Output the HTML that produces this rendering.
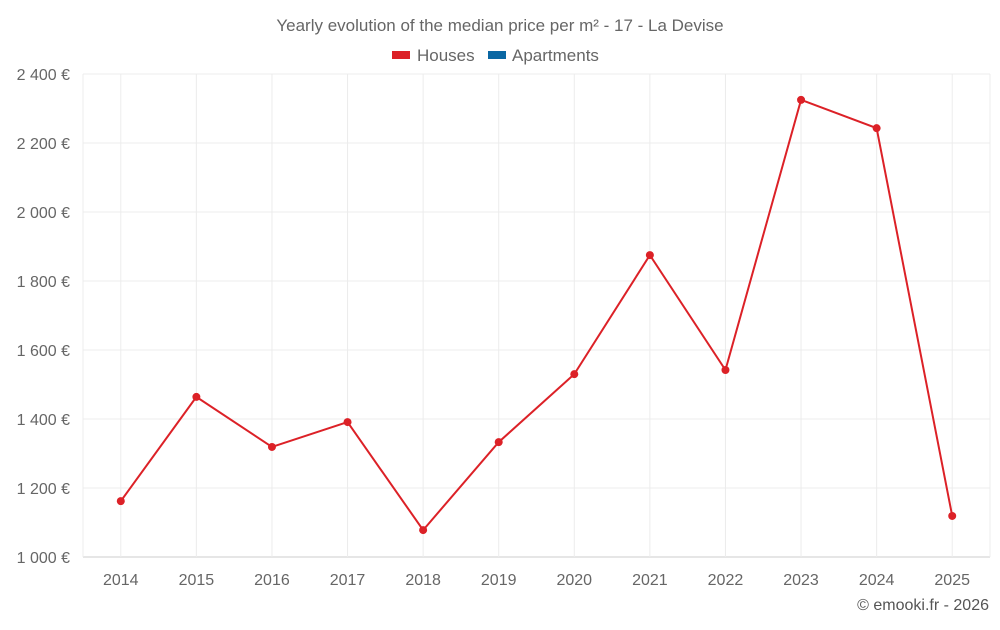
<!DOCTYPE html>
<html><head><meta charset="utf-8"><style>
body{margin:0;background:#fff;font-family:"Liberation Sans",Roboto,sans-serif;}
svg text{font-family:"Liberation Sans",sans-serif;}
</style></head><body>
<svg id="chart" width="1000" height="625" xmlns="http://www.w3.org/2000/svg">
<text x="500" y="31" text-anchor="middle" font-size="17" fill="#666">Yearly evolution of the median price per m² - 17 - La Devise</text>
<g><rect x="392" y="51" width="18" height="8" fill="#dc2127"/><text x="417" y="61" font-size="17" fill="#666">Houses</text></g>
<g><rect x="488" y="51" width="18" height="8" fill="#0a67a3"/><text x="512" y="61" font-size="17" fill="#666">Apartments</text></g>
<g id="grid"></g><g id="axes"></g><g id="series"></g>
<text x="989" y="610" text-anchor="end" font-size="16" fill="#555">© emooki.fr - 2026</text>
</svg>
<script>
const years=["2014","2015","2016","2017","2018","2019","2020","2021","2022","2023","2024","2025"];
const houses=[1162,1464,1319,1391,1078,1333,1530,1875,1542,2325,2243,1119];
const yTicks=[1000,1200,1400,1600,1800,2000,2200,2400];
const yTickLabels=["1 000 €","1 200 €","1 400 €","1 600 €","1 800 €","2 000 €","2 200 €","2 400 €"];
const NS="http://www.w3.org/2000/svg";
const L=83,R=990,T=74,B=557,ymin=1000,ymax=2400;
const band=(R-L)/years.length;
function x(i){return L+band*(i+0.5);}
function y(v){return B-(v-ymin)/(ymax-ymin)*(B-T);}
function mk(tag,attrs,parent){const e=document.createElementNS(NS,tag);for(const k in attrs)e.setAttribute(k,attrs[k]);document.getElementById(parent).appendChild(e);return e;}
yTicks.forEach((v,i)=>{
 const g=mk('line',{x1:L,x2:R,y1:y(v),y2:y(v),stroke:i==0?'#ccc':'#ececec','stroke-width':1},'grid');
 
 
 const t=mk('text',{x:70,y:y(v)+6,'text-anchor':'end','font-size':16,fill:'#666'},'axes');
 t.textContent=yTickLabels[i];
 
 
});
[L,R].concat(years.map((_,i)=>x(i))).forEach(xx=>{
 const g=mk('line',{x1:xx,x2:xx,y1:T,y2:B,stroke:'#ececec','stroke-width':1},'grid');
 
 
});
years.forEach((yr,i)=>{
 const t=mk('text',{x:x(i),y:585,'text-anchor':'middle','font-size':16,fill:'#666'},'axes');
 t.textContent=yr;
 
 
});
const p=mk('polyline',{points:houses.map((v,i)=>x(i)+','+y(v)).join(' '),fill:'none',stroke:'#dc2127','stroke-width':2},'series');


houses.forEach((v,i)=>{
 const c=mk('circle',{cx:x(i),cy:y(v),r:4,fill:'#dc2127'},'series');
 
 
});
</script>
</body></html>
